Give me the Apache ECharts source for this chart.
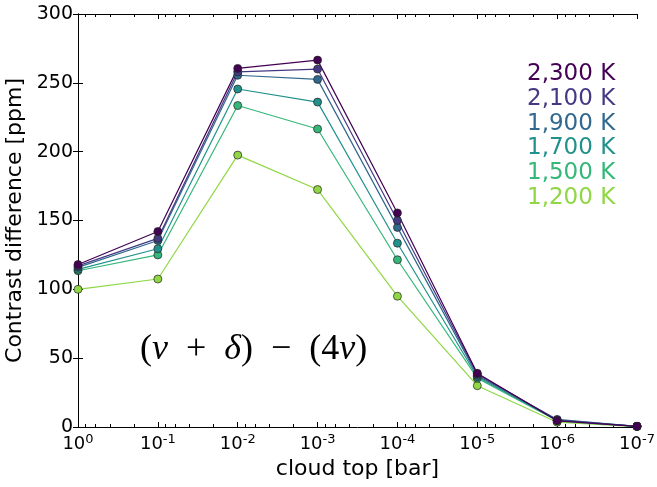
<!DOCTYPE html>
<html>
<head>
<meta charset="utf-8">
<script src="https://cdn.jsdelivr.net/npm/echarts@6/dist/echarts.min.js"></script>
<style>
html,body{margin:0;padding:0;background:#fff;}
#chart{width:657px;height:487px;}
</style>
</head>
<body>
<div id="chart"></div>
<script>
// cloud top pressure in bar, plotted as -log10(p)
var cloudTop = [1, 1e-1, 1e-2, 1e-3, 1e-4, 1e-5, 1e-6, 1e-7];
var temps = ["1,200 K", "1,500 K", "1,700 K", "1,900 K", "2,100 K", "2,300 K"];
var colors = ["#8fd744", "#35b779", "#21918c", "#31688e", "#443a83", "#440154"];

var t1200 = [100, 107.5, 197.5, 172.5, 95, 30, 3.5, 0.3];
var t1500 = [113.5, 125, 233.5, 216.5, 121.5, 35.5, 4.5, 0.5];
var t1700 = [114.5, 129.5, 245.5, 236, 133.5, 36.5, 5, 0.5];
var t1900 = [116, 135.5, 255.5, 252.5, 145, 37.5, 5.5, 0.5];
var t2100 = [117, 137, 258, 260, 150, 38.5, 5, 0.5];
var t2300 = [118, 142, 260.5, 266.5, 155.5, 39, 4.5, 0.5];
var values = [t1200, t1500, t1700, t1900, t2100, t2300];

var majorX = [0, 1, 2, 3, 4, 5, 6, 7];
var minorX = [];
majorX.forEach(function (n) {
    if (n < 7) {
        [0.8, 0.6, 0.4, 0.2].forEach(function (s) { minorX.push(n - Math.log10(s)); });
    }
});

var font = "DejaVu Sans";
var black = "#000";

function xAxisBase(pos, tickLen, ticks, showLine, showLabel) {
    return {
        type: 'value', min: 0, max: 7, position: pos,
        axisLine: {show: showLine, onZero: false, lineStyle: {color: black, width: 1}},
        axisTick: {show: true, inside: true, length: tickLen, customValues: ticks, lineStyle: {color: black, width: 1}},
        splitLine: {show: false},
        axisLabel: {show: showLabel}
    };
}

var xBottom = xAxisBase('bottom', 5, majorX, true, true);
xBottom.axisLabel = {
    show: true, customValues: majorX, margin: 6,
    formatter: function (v) {
        return '{b|10}{s|' + (v === 0 ? '0' : '-' + v) + '}';
    },
    rich: {
        b: {fontFamily: font, fontSize: 18, color: black},
        s: {fontFamily: font, fontSize: 13, color: black, padding: [0, 0, 9, 0]}
    }
};
xBottom.name = 'cloud top [bar]';
xBottom.nameLocation = 'middle';
xBottom.nameGap = 31;
xBottom.nameTextStyle = {fontFamily: font, fontSize: 22, color: black};

var option = {
    animation: false,
    backgroundColor: '#fff',
    grid: {left: 78, right: 20, top: 14, bottom: 60, containLabel: false, outerBoundsMode: 'none'},
    xAxis: [
        xBottom,
        xAxisBase('bottom', 3, minorX, false, false),
        xAxisBase('top', 5, majorX, true, false),
        xAxisBase('top', 3, minorX, false, false)
    ],
    yAxis: [{
        type: 'value', min: 0, max: 300, interval: 50, position: 'left',
        name: 'Contrast difference [ppm]', nameLocation: 'middle', nameGap: 46,
        nameTextStyle: {fontFamily: font, fontSize: 22, color: black},
        axisLine: {show: true, lineStyle: {color: black, width: 1}},
        axisTick: {show: true, inside: true, length: 5, lineStyle: {color: black}},
        axisLabel: {fontFamily: font, fontSize: 19, color: black, margin: 5},
        splitLine: {show: false}
    }, {
        type: 'value', min: 0, max: 300, interval: 50, position: 'right',
        axisLine: {show: true, lineStyle: {color: black, width: 1}},
        axisTick: {show: true, inside: true, length: 5, lineStyle: {color: black}},
        axisLabel: {show: false},
        splitLine: {show: false}
    }],
    legend: {
        orient: 'vertical', left: 522, top: 62, padding: 0, itemGap: 0,
        icon: 'none', itemWidth: 0, itemHeight: 0, selectedMode: false,
        data: temps.slice().reverse().map(function (t) {
            return {name: t, textStyle: {color: colors[temps.indexOf(t)]}};
        }),
        textStyle: {fontFamily: font, fontSize: 23, lineHeight: 24.7, padding: 0}
    },
    graphic: [{
        type: 'text', left: 140, top: 332,
        style: {
            text: '{p|(}{i|ν}{p|  +  }{i|δ}{p|)  −  (4}{i|ν}{p|)}',
            rich: {
                p: {fontFamily: 'Liberation Serif', fontSize: 36, fill: black},
                i: {fontFamily: 'Liberation Serif', fontSize: 36, fontStyle: 'italic', fill: black}
            }
        }
    }],
    series: temps.map(function (t, i) {
        return {
            name: t, type: 'line',
            data: cloudTop.map(function (p, j) { return [-Math.log10(p), values[i][j]]; }),
            symbol: 'circle', symbolSize: 8,
            lineStyle: {color: colors[i], width: 1.2},
            itemStyle: {color: colors[i], borderColor: '#222', borderWidth: 0.7}
        };
    })
};

var chart = echarts.init(document.getElementById('chart'));
chart.setOption(option);
</script>
</body>
</html>
